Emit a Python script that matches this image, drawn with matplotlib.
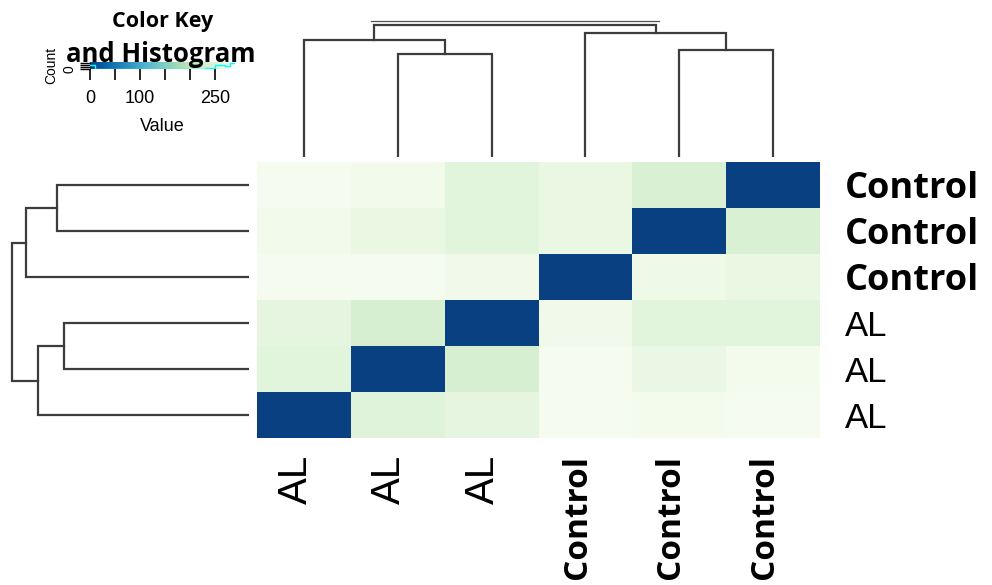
import numpy as np
import matplotlib.pyplot as plt
from matplotlib.font_manager import FontProperties
from matplotlib.transforms import ScaledTranslation

samples = ['AL', 'AL', 'AL', 'Control', 'Control', 'Control']

# sample distance matrix, rows listed top to bottom as drawn, columns left to right
rows_top_down = [
    [286, 280, 255, 268, 241, 0],
    [280, 268, 255, 268, 0, 241],
    [287, 287, 279, 0, 276, 268],
    [262, 235, 0, 279, 255, 255],
    [255, 0, 235, 287, 271, 284],
    [0, 252, 262, 287, 284, 287],
]

# clustering merges: (child a, child b, height); ids >= 6 refer to earlier merges
merges = [(1, 2, 0.78), (4, 5, 0.81), (0, 6, 0.89), (3, 7, 0.94), (8, 9, 1.00)]

key_ticks = [0, 50, 100, 150, 200, 250]
key_labels = ['0', '', '100', '', '', '250']
vmax = 290

W, H = 992, 585
fig = plt.figure(figsize=(W / 100, H / 100), dpi=100)


def px_axes(x0, y0, x1, y1):
    return fig.add_axes([x0 / W, 1 - y1 / H, (x1 - x0) / W, (y1 - y0) / H])


def dendro_segments(merges, n):
    pos = {i: i + 0.5 for i in range(n)}
    hgt = {i: 0.0 for i in range(n)}
    segs = []
    for k, (a, b, h) in enumerate(merges):
        segs.append(([pos[a], pos[a], pos[b], pos[b]], [hgt[a], h, h, hgt[b]]))
        pos[n + k] = (pos[a] + pos[b]) / 2
        hgt[n + k] = h
    return segs, pos, hgt


n = len(samples)
mat = np.flipud(np.array(rows_top_down, dtype=float))
cmap = plt.get_cmap('GnBu_r')
line_col = '#3c3c3c'

# heatmap
ax = px_axes(257, 162, 820, 438)
ax.pcolormesh(np.arange(n + 1), np.arange(n + 1), mat, cmap=cmap, vmin=0, vmax=vmax)
ax.set_xlim(0, n)
ax.set_ylim(0, n)
for s in ax.spines.values():
    s.set_visible(False)

bold = FontProperties(family='Open Sans', weight='bold', size=26)
reg = FontProperties(family='Liberation Sans', size=25)
bold_x = FontProperties(family='Open Sans', weight='bold', size=24)
reg_x = FontProperties(family='Liberation Sans', size=29)

ax.set_xticks(np.arange(n) + 0.5)
ax.set_xticklabels(samples, rotation=90)
ax.tick_params(axis='x', length=0, pad=12)
shift = ScaledTranslation(-6 / 72, 0, fig.dpi_scale_trans)
for lab, name in zip(ax.get_xticklabels(), samples):
    lab.set_fontproperties(bold_x if name == 'Control' else reg_x)
    lab.set_transform(lab.get_transform() + shift)

ax.yaxis.tick_right()
ax.set_yticks(np.arange(n) + 0.5)
ax.set_yticklabels(samples)
ax.tick_params(axis='y', length=0, pad=18)
for lab, name in zip(ax.get_yticklabels(), samples):
    lab.set_fontproperties(bold if name == 'Control' else reg)
    lab.set_verticalalignment('center_baseline')

segs, pos, hgt = dendro_segments(merges, n)

# column dendrogram
axt = px_axes(257, 10, 820, 157)
for xs, ys in segs:
    axt.plot(xs, ys, color=line_col, lw=1.6, solid_joinstyle='miter')
root = n + len(merges) - 1
a, b = merges[-1][0], merges[-1][1]
axt.plot([pos[a] - 0.03, pos[b] + 0.03], [hgt[root] + 0.03] * 2, color='#555555', lw=0.9)
axt.set_xlim(0, n)
axt.set_ylim(0, 147 / 132)
axt.axis('off')

# row dendrogram
axl = px_axes(0, 162, 249, 438)
for xs, ys in segs:
    axl.plot(ys, xs, color=line_col, lw=1.6, solid_joinstyle='miter')
axl.set_ylim(0, n)
axl.set_xlim(249 / 237, 0)
axl.axis('off')

# colour key with value histogram
axk = px_axes(90, 62, 235, 69)
grad = np.linspace(0, vmax, 256)[None, :]
axk.imshow(grad, cmap=cmap, vmin=0, vmax=vmax, extent=(0, vmax, 0, 1), aspect='auto')
counts, edges = np.histogram(mat.ravel(), bins=np.linspace(0, vmax, 30))
axk.step(edges, np.append(counts, counts[-1]) / counts.max() * 0.9, where='post',
         color='cyan', lw=1)
axk.set_xlim(0, vmax)
axk.set_ylim(0, 1)
axk.set_xticks(key_ticks)
axk.set_xticklabels(key_labels, family='Liberation Sans', fontsize=13)
axk.tick_params(axis='x', length=8, width=1.2, pad=7)
axk.set_xlabel('Value', family='Liberation Sans', fontsize=13, labelpad=8)
axk.set_yticks([0, 0.3, 0.6, 0.9])
axk.set_yticklabels(['0', '', '', ''], rotation=90, va='center', fontsize=10,
                    family='Liberation Sans')
axk.tick_params(axis='y', length=7, width=1, pad=3)
axk.set_ylabel('Count', family='Liberation Sans', fontsize=10, labelpad=3)
for s in axk.spines.values():
    s.set_visible(False)

fig.text(163 / W, 1 - 21 / H, 'Color Key', family='Open Sans', weight='bold',
         fontsize=15.5, ha='center', va='center')
fig.text(161 / W, 1 - 55 / H, 'and Histogram', family='Open Sans', weight='bold',
         fontsize=18.5, ha='center', va='center')

fig.savefig('out.png', dpi=100)
